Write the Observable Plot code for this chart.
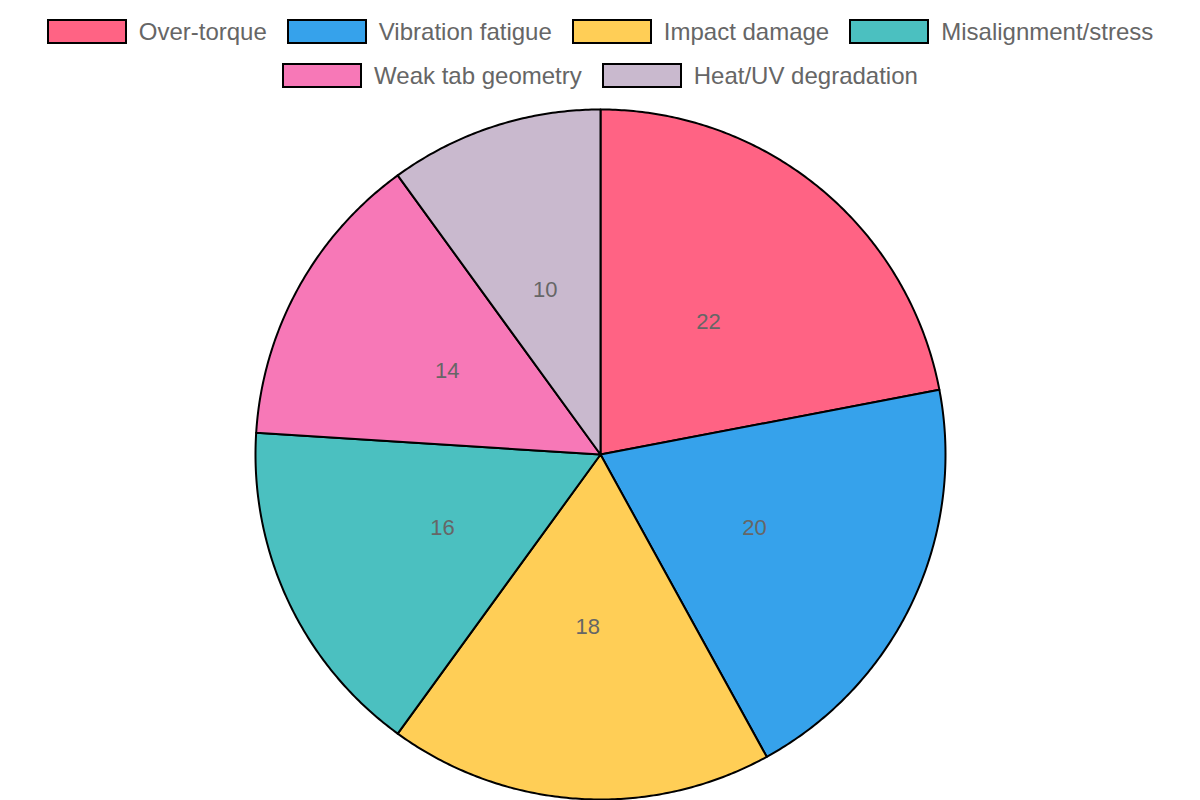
<!DOCTYPE html>
<html>
<head>
<meta charset="utf-8">
<script src="https://cdn.jsdelivr.net/npm/d3@7"></script>
<script src="https://cdn.jsdelivr.net/npm/@observablehq/plot@0.6"></script>
<style>
  html, body { margin: 0; padding: 0; background: #fff; }
  body { width: 1200px; height: 800px; overflow: hidden; font-family: "Liberation Sans", Arial, sans-serif; }
  #legend { box-sizing: border-box; width: 1200px; height: 100px; padding-top: 19px; display: flex; flex-wrap: wrap; justify-content: center; column-gap: 20px; row-gap: 19px; align-content: flex-start; }
  .item { display: flex; align-items: center; height: 25px; }
  .sw { box-sizing: border-box; width: 80px; height: 25px; border: 2px solid #000; margin-right: 12px; }
  .lb { font-size: 24px; color: #666; line-height: 25px; white-space: nowrap; }
  #chart svg { display: block; }
</style>
</head>
<body>
<div id="legend"></div>
<div id="chart"></div>
<script>
const categories = ["Over-torque", "Vibration fatigue", "Impact damage", "Misalignment/stress", "Weak tab geometry", "Heat/UV degradation"];
const values = [22, 20, 18, 16, 14, 10];
const colors = ["#FF6384", "#36A2EB", "#FFCE56", "#4BC0C0", "#F778B7", "#C9B9CE"];

// legend
const legend = document.getElementById("legend");
categories.forEach((c, i) => {
  const it = document.createElement("div");
  it.className = "item";
  const sw = document.createElement("span");
  sw.className = "sw";
  sw.style.background = colors[i];
  const lb = document.createElement("span");
  lb.className = "lb";
  lb.textContent = c;
  it.appendChild(sw); it.appendChild(lb);
  legend.appendChild(it);
});

// pie geometry from data (angles clockwise from 12 o'clock)
const arcs = d3.pie().sort(null).value(d => d.value)(categories.map((name, i) => ({name, value: values[i]})));
const slicePts = [];
const labels = [];
arcs.forEach(a => {
  const name = a.data.name;
  slicePts.push({name, x: 0, y: 0});
  const n = Math.max(2, Math.ceil((a.endAngle - a.startAngle) / (Math.PI * 2) * 720));
  for (let k = 0; k <= n; k++) {
    const t = a.startAngle + (a.endAngle - a.startAngle) * k / n;
    slicePts.push({name, x: Math.sin(t), y: Math.cos(t)});
  }
  const m = (a.startAngle + a.endAngle) / 2;
  labels.push({name, value: a.data.value, x: 0.5 * Math.sin(m), y: 0.5 * Math.cos(m)});
});

const chart = Plot.plot({
  width: 1200,
  height: 700,
  marginLeft: 255,
  marginRight: 255,
  marginTop: 9,
  marginBottom: 1,
  x: {domain: [-1, 1], axis: null},
  y: {domain: [-1, 1], axis: null},
  color: {domain: categories, range: colors},
  style: {fontFamily: "Liberation Sans, Arial, sans-serif", background: "white", overflow: "visible"},
  marks: [
    Plot.line(slicePts, {x: "x", y: "y", z: "name", fill: "name", stroke: "#000", strokeWidth: 2, strokeLinejoin: "round", curve: "linear-closed"}),
    Plot.text(labels, {x: "x", y: "y", text: d => String(d.value), fill: "#666", fontSize: 22, dx: -2})
  ]
});
document.getElementById("chart").appendChild(chart);
</script>
</body>
</html>
